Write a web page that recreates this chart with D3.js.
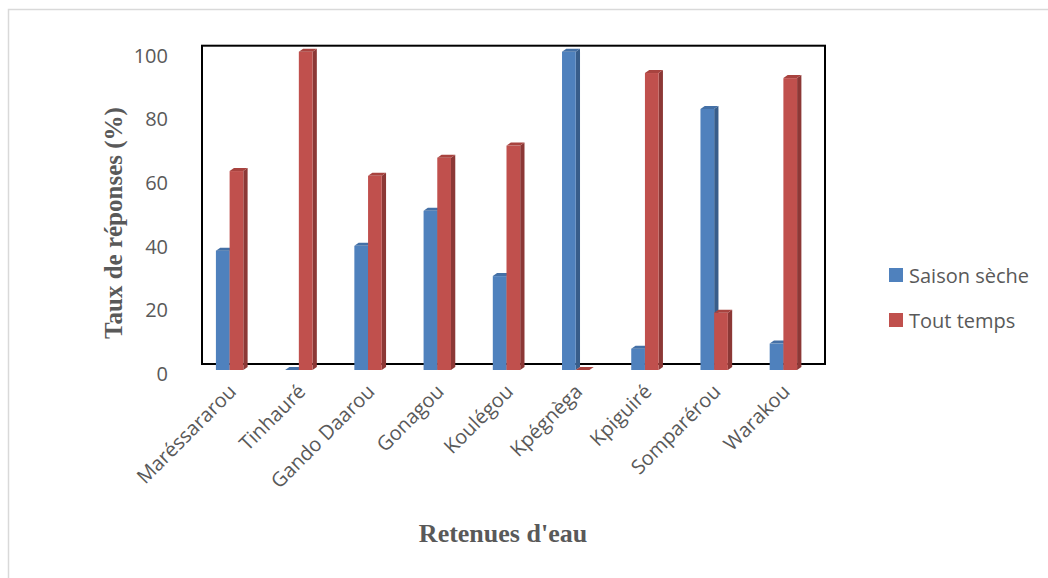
<!DOCTYPE html>
<html>
<head>
<meta charset="utf-8">
<script src="https://cdn.jsdelivr.net/npm/d3@7/dist/d3.min.js"></script>
<style>
  html, body { margin: 0; padding: 0; background: #ffffff; }
  svg { display: block; }
</style>
</head>
<body>
<svg id="chart" width="1048" height="578"></svg>
<script>
// Water reservoirs and the share of answers for each period of use
const categories = ["Maréssararou", "Tinhauré", "Gando Daarou", "Gonagou", "Koulégou",
                    "Kpégnèga", "Kpiguiré", "Somparérou", "Warakou"];
const saisonSeche = [37.5, 0, 39, 50, 29.5, 100, 6.7, 82, 8.3];
const toutTemps   = [62.5, 100, 61, 66.7, 70.5, 0, 93.3, 18, 91.7];
const seriesNames = ["Saison sèche", "Tout temps"];
const yTicks = [0, 20, 40, 60, 80, 100];

const frontColors = ["#4f81bd", "#c0504d"];
const sideColors  = ["#385d8a", "#8c3836"];
const topColors   = ["#4470a6", "#a8433f"];

const svg = d3.select("#chart");
const textColor = "#595959";
const sansFont = "'Open Sans', 'Noto Sans', sans-serif";
const serifFont = "'Liberation Serif', 'DejaVu Serif', serif";

// outer chart-area border
svg.append("rect")
  .attr("x", 8.5).attr("y", 9.5)
  .attr("width", 1100).attr("height", 600)
  .attr("fill", "none")
  .attr("stroke", "#d9d9d9")
  .attr("stroke-width", 1.5);

// scales (front plane of the 3-D plot)
const x = d3.scaleBand().domain(categories).range([195, 818]).padding(0);
const y = d3.scaleLinear().domain([0, 100]).range([370, 51.7]);

// depth offsets of the 3-D effect
const wallDx = 7, wallDy = -6;   // back wall
const barDx = 4.3, barDy = -3;   // bar thickness
const barW = 13.7;

// back wall frame
svg.append("rect")
  .attr("x", x.range()[0] + wallDx)
  .attr("y", y(100) + wallDy)
  .attr("width", x.range()[1] - x.range()[0])
  .attr("height", y(0) - y(100))
  .attr("fill", "none")
  .attr("stroke", "#000")
  .attr("stroke-width", 2);

// y axis labels
const yAxis = d3.axisLeft(y).tickValues(yTicks).tickSize(0).tickPadding(0);
const gy = svg.append("g")
  .attr("transform", "translate(168,4)")
  .call(yAxis);
gy.select(".domain").remove();
gy.selectAll("text")
  .attr("fill", textColor)
  .style("font-family", sansFont)
  .style("font-size", "20px");

// bars
const rows = categories.map((c, i) => ({ c, vals: [saisonSeche[i], toutTemps[i]] }));
const groups = svg.append("g").selectAll("g")
  .data(rows).join("g");

groups.each(function (d) {
  const g = d3.select(this);
  d.vals.forEach((v, s) => {
    const x0 = x(d.c) + x.bandwidth() / 2 - barW + s * barW;
    const x1 = x0 + barW;
    const yt = y(v), yb = y(0);
    // side face
    g.append("path")
      .attr("d", `M${x1},${yt} L${x1 + barDx},${yt + barDy} L${x1 + barDx},${yb + barDy} L${x1},${yb} Z`)
      .attr("fill", sideColors[s]);
    // front face
    if (yb - yt > 0) {
      g.append("rect")
        .attr("x", x0).attr("y", yt)
        .attr("width", barW).attr("height", yb - yt)
        .attr("fill", frontColors[s]);
    }
    // top face
    g.append("path")
      .attr("d", `M${x0},${yt} L${x1},${yt} L${x1 + barDx},${yt + barDy} L${x0 + barDx},${yt + barDy} Z`)
      .attr("fill", topColors[s]);
  });
});

// category labels
svg.append("g").selectAll("text")
  .data(categories).join("text")
  .attr("transform", d => `translate(${x(d) + x.bandwidth() / 2 - 4},381) rotate(-45)`)
  .attr("text-anchor", "end")
  .attr("dominant-baseline", "hanging")
  .attr("fill", textColor)
  .style("font-family", sansFont)
  .style("font-size", "20px")
  .text(d => d);

// axis titles
svg.append("text")
  .attr("transform", "translate(113,223) rotate(-90)")
  .attr("text-anchor", "middle")
  .attr("dominant-baseline", "central")
  .attr("fill", textColor)
  .style("font-family", serifFont)
  .style("font-weight", "bold")
  .style("font-size", "25px")
  .text("Taux de réponses (%)");

svg.append("text")
  .attr("x", 503).attr("y", 533)
  .attr("text-anchor", "middle")
  .attr("dominant-baseline", "central")
  .attr("fill", textColor)
  .style("font-family", serifFont)
  .style("font-weight", "bold")
  .style("font-size", "26px")
  .text("Retenues d'eau");

// legend
const legend = svg.append("g").selectAll("g")
  .data(seriesNames).join("g")
  .attr("transform", (d, i) => `translate(889,${275 + i * 45})`);
legend.append("rect")
  .attr("x", 0).attr("y", -7)
  .attr("width", 14).attr("height", 14)
  .attr("fill", (d, i) => frontColors[i]);
legend.append("text")
  .attr("x", 20).attr("y", 0)
  .attr("dominant-baseline", "central")
  .attr("fill", textColor)
  .style("font-family", sansFont)
  .style("font-size", "20px")
  .text(d => d);
</script>
</body>
</html>
